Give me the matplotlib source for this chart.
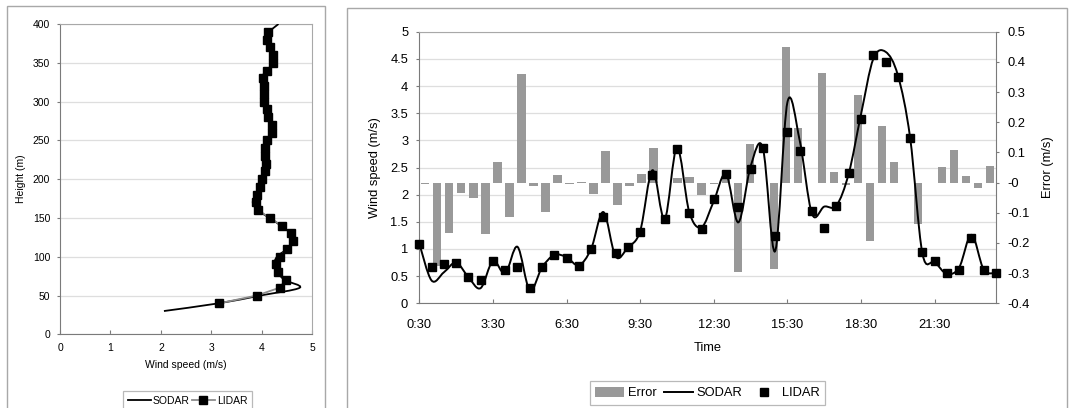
import numpy as np
import matplotlib.pyplot as plt
from matplotlib.path import Path
from matplotlib.patches import PathPatch, Patch, Rectangle
from matplotlib.lines import Line2D

plt.rcParams['font.family'] = ['Liberation Sans', 'DejaVu Sans']

# -------------------------------
# Data: vertical profile (left)
# -------------------------------
sodar_height = np.arange(30, 401, 10)
sodar_profile = [2.06, 3.15, 3.97, 4.75, 4.45, 4.32, 4.25, 4.30, 4.50, 4.65,
                 4.57, 4.38, 4.15, 3.92, 3.82, 3.90, 3.96, 4.01, 4.07, 4.08,
                 4.07, 4.07, 4.12, 4.21, 4.21, 4.13, 4.09, 4.04, 4.05, 4.05,
                 3.98, 4.10, 4.22, 4.22, 4.17, 4.10, 4.15, 4.33]

lidar_height = np.arange(40, 391, 10)
lidar_profile = [3.16, 3.90, 4.35, 4.47, 4.33, 4.28, 4.36, 4.50, 4.62, 4.58,
                 4.40, 4.16, 3.93, 3.88, 3.90, 3.96, 4.00, 4.06, 4.08, 4.07,
                 4.07, 4.11, 4.21, 4.21, 4.13, 4.10, 4.04, 4.05, 4.05, 4.03,
                 4.11, 4.22, 4.22, 4.16, 4.10, 4.13]

# -------------------------------
# Data: time series (right)
# -------------------------------
time_h = np.arange(0.5, 24.01, 0.5)
time_ticks = [0.5, 3.5, 6.5, 9.5, 12.5, 15.5, 18.5, 21.5]
time_labels = ['0:30', '3:30', '6:30', '9:30', '12:30', '15:30', '18:30', '21:30']

sodar_ts = [1.10, 0.42, 0.57, 0.75, 0.48, 0.28, 0.78, 0.55, 1.04, 0.24, 0.66, 0.89,
            0.85, 0.70, 1.00, 1.68, 0.86, 1.03, 1.33, 2.45, 1.55, 2.87, 1.68, 1.40,
            1.88, 2.38, 1.49, 2.52, 2.86, 0.96, 3.70, 3.00, 1.65, 1.78, 1.80, 2.39,
            3.48, 4.50, 4.63, 4.20, 3.05, 0.92, 0.76, 0.54, 0.66, 1.26, 0.62, 0.56]

lidar_ts = [1.10, 0.66, 0.72, 0.74, 0.48, 0.42, 0.77, 0.61, 0.66, 0.28, 0.66, 0.89,
            0.83, 0.69, 1.00, 1.59, 0.93, 1.03, 1.31, 2.36, 1.55, 2.84, 1.67, 1.37,
            1.92, 2.38, 1.77, 2.47, 2.85, 1.24, 3.16, 2.81, 1.70, 1.39, 1.79, 2.39,
            3.39, 4.57, 4.44, 4.16, 3.04, 0.95, 0.78, 0.55, 0.61, 1.21, 0.61, 0.55]

error_ts = [-0.005, -0.275, -0.166, -0.033, -0.052, -0.170, 0.069, -0.115, 0.359, -0.010, -0.096, 0.025,
            -0.005, 0.003, -0.038, 0.105, -0.074, -0.010, 0.028, 0.116, -0.003, 0.014, 0.018, -0.041,
            -0.005, 0.014, -0.295, 0.128, -0.003, -0.287, 0.448, 0.181, 0.0, 0.362, 0.036, -0.008,
            0.290, -0.194, 0.189, 0.068, -0.003, -0.138, 0.0, 0.053, 0.107, 0.021, -0.017, 0.056]


def smooth_path(x, y):
    # Excel-like smoothed line (Catmull-Rom as cubic Bezier)
    p = np.column_stack([x, y]).astype(float)
    n = len(p)
    verts = [p[0]]
    codes = [Path.MOVETO]
    for i in range(n - 1):
        p0 = p[i - 1] if i > 0 else p[i]
        p3 = p[i + 2] if i + 2 < n else p[i + 1]
        verts += [p[i] + (p[i + 1] - p0) / 6, p[i + 1] - (p3 - p[i]) / 6, p[i + 1]]
        codes += [Path.CURVE4] * 3
    return Path(verts, codes)


W, H = 1069, 408
fig = plt.figure(figsize=(W / 100, H / 100), dpi=100)

# chart area borders
fig.patches.append(Rectangle((7 / W, -0.1), 318 / W, 1 - 6 / H + 0.1, transform=fig.transFigure,
                             fill=False, edgecolor='#a8a8a8', lw=1))
fig.patches.append(Rectangle((347 / W, -0.1), 720 / W, 1 - 8 / H + 0.1, transform=fig.transFigure,
                             fill=False, edgecolor='#a8a8a8', lw=1))

axis_col = '#7a7a7a'
frame_col = '#a8a8a8'
grid_col = '#dedede'

# -------------------------------
# Left chart: profile
# -------------------------------
fs1 = 7.5
ax1 = fig.add_axes([60 / W, 1 - 334.3 / H, 252.3 / W, 310.3 / H])
ax1.set_xlim(0, 5)
ax1.set_ylim(0, 400)
ax1.set_xticks(range(0, 6))
ax1.set_yticks(range(0, 401, 50))
ax1.yaxis.grid(True, color=grid_col, lw=0.9)
ax1.set_axisbelow(True)
ax1.tick_params(axis='x', direction='in', length=3, pad=6, labelsize=fs1, color=axis_col)
ax1.tick_params(axis='y', direction='out', length=2, pad=5, labelsize=fs1, color=axis_col)
for s in ['left', 'bottom']:
    ax1.spines[s].set_color(axis_col)
for s in ['top', 'right']:
    ax1.spines[s].set_color(frame_col)
ax1.set_xlabel('Wind speed (m/s)', fontsize=fs1, labelpad=5)
ax1.set_ylabel('Height (m)', fontsize=fs1, labelpad=5)

ax1.add_patch(PathPatch(smooth_path(sodar_profile, sodar_height), facecolor='none',
                        edgecolor='black', lw=1.3, transform=ax1.transData, zorder=3))
ax1.plot(lidar_profile, lidar_height, color='#8c8c8c', lw=1.3, marker='s', ms=5.3,
         mfc='black', mec='black', zorder=4)

h1 = [Line2D([], [], color='black', lw=1.3),
      Line2D([], [], color='#8c8c8c', lw=1.3, marker='s', ms=5.3, mfc='black', mec='black')]
leg1 = fig.legend(h1, ['SODAR', 'LIDAR'], loc='center', bbox_to_anchor=(187.5 / W, 1 - 400.5 / H),
                  ncol=2, fontsize=fs1, frameon=True, fancybox=False, edgecolor=frame_col,
                  handlelength=2.2, handletextpad=0.2, columnspacing=0.2, borderpad=0.45,
                  borderaxespad=0)
leg1.get_frame().set_linewidth(0.9)

# -------------------------------
# Right chart: time series
# -------------------------------
fs2 = 9.25
rect = [419.3 / W, 1 - 303.3 / H, 576.7 / W, 271.6 / H]
axg = fig.add_axes(rect)
axg.set_xlim(0.5, 24.0)
axg.set_ylim(0, 5)
axg.set_yticks(np.arange(0, 5.01, 0.5))
axg.set_yticklabels(['%g' % v for v in np.arange(0, 5.01, 0.5)])
axg.set_xticks(time_ticks)
axg.set_xticklabels(time_labels)
axg.yaxis.grid(True, color=grid_col, lw=0.9)
axg.set_axisbelow(True)
axg.tick_params(axis='x', direction='in', length=3, pad=11, labelsize=fs2, color=axis_col)
axg.tick_params(axis='y', direction='out', length=2, pad=6, labelsize=fs2, color=axis_col)
for s in ['left', 'bottom']:
    axg.spines[s].set_color(axis_col)
axg.spines['top'].set_color(frame_col)
axg.spines['right'].set_visible(False)
axg.set_xlabel('Time', fontsize=fs2, labelpad=8)
axg.set_ylabel('Wind speed (m/s)', fontsize=fs2, labelpad=7)

# error bars on secondary axis, drawn as category columns
ax2 = axg.twinx()
ax2.set_zorder(axg.get_zorder() + 1)
ax2.patch.set_visible(False)
ax2.set_ylim(-0.4, 0.5)
err_ticks = np.round(np.arange(-0.4, 0.51, 0.1), 1)
ax2.set_yticks(err_ticks)
ax2.set_yticklabels(['%g' % v for v in err_ticks])
ax2.tick_params(axis='y', direction='out', length=2, pad=6, labelsize=fs2, color=axis_col)
for s in ['left', 'top', 'bottom']:
    ax2.spines[s].set_visible(False)
ax2.spines['right'].set_color(axis_col)
ax2.set_ylabel('Error (m/s)', fontsize=fs2, labelpad=9)
x0, x1 = axg.get_xlim()
n = len(error_ts)
step = (x1 - x0) / n
bar_x = x0 + (np.arange(n) + 0.5) * step
ax2.bar(bar_x, error_ts, width=step * 0.69, color='#999999', lw=0)

# lines and markers on top
ax3 = axg.twinx()
ax3.set_zorder(ax2.get_zorder() + 1)
ax3.patch.set_visible(False)
ax3.set_ylim(0, 5)
ax3.axis('off')
ax3.add_patch(PathPatch(smooth_path(time_h, sodar_ts), facecolor='none', edgecolor='black',
                        lw=1.4, transform=ax3.transData, zorder=3, clip_on=False))
ax3.plot(time_h, lidar_ts, ls='none', marker='s', ms=6, mfc='black', mec='black',
         zorder=4, clip_on=False)

h2 = [Patch(facecolor='#999999', edgecolor='none'),
      Line2D([], [], color='black', lw=1.4),
      Line2D([], [], ls='none', marker='s', ms=6, mfc='black', mec='black')]
leg2 = fig.legend(h2, ['Error', 'SODAR', 'LIDAR'], loc='center', bbox_to_anchor=(707.5 / W, 1 - 393 / H),
                  ncol=3, fontsize=fs2, frameon=True, fancybox=False, edgecolor=frame_col,
                  handlelength=2.26, handleheight=0.9, handletextpad=0.25, columnspacing=0.6,
                  borderpad=0.45, borderaxespad=0)
leg2.get_frame().set_linewidth(0.9)

fig.savefig('out.png', dpi=100)
